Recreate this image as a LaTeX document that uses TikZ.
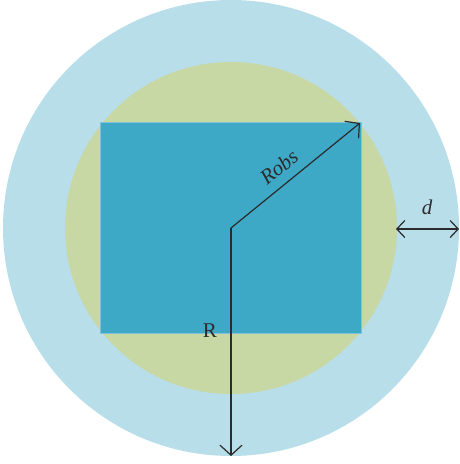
\documentclass[tikz,border=0pt]{standalone}
\usepackage{fontspec}
\setmainfont{Liberation Serif}
\usetikzlibrary{arrows.meta}
\definecolor{outerblue}{HTML}{B8DEEA}
\definecolor{ringgreen}{HTML}{C8D8A4}
\definecolor{rectblue}{HTML}{3DA9C7}
\definecolor{rectedge}{HTML}{7FC3D6}
\definecolor{ink}{HTML}{2B2B2B}
\tikzset{
  dimarrow/.style={draw=ink, line width=1.2pt, -{Straight Barb[length=10pt,width=22pt,line width=1.2pt]}},
  dimboth/.style={draw=ink, line width=1.2pt, {Straight Barb[length=8pt,width=17pt,line width=1.2pt]}-{Straight Barb[length=8pt,width=17pt,line width=1.2pt]}},
  lbl/.style={text=ink, font=\fontsize{21}{24}\selectfont, inner sep=0pt}
}
\begin{document}
\begin{tikzpicture}[x=1pt,y=-1pt]
\useasboundingbox (0,0) rectangle (459,464);
\coordinate (c) at (231,228);
\fill[outerblue] (c) circle (228);
\fill[ringgreen] (c) circle (166);
\fill[rectblue, draw=rectedge, line width=1pt] (100,122) rectangle (361,333);
\coordinate (corner) at (360,123);
\coordinate (bottom) at (231,456);
\coordinate (dl) at (396,229);
\coordinate (dr) at (459,229);
\draw[dimarrow] (c) -- (corner);
\draw[dimarrow] (c) -- (bottom);
\draw[dimboth] (dl) -- (dr);
\node[lbl, rotate=39] (robs) at (279,167) {\itshape Robs};
\node[lbl] (rlab) at (210,331) {R};
\node[lbl] (dlab) at (427,207) {\itshape d};
\end{tikzpicture}
\end{document}
